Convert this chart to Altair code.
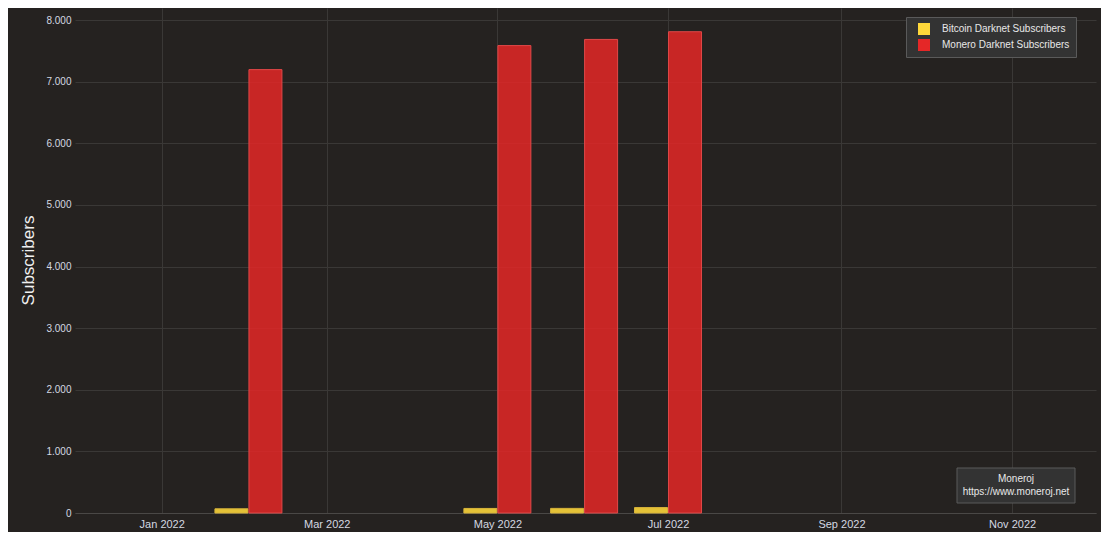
import altair as alt
import pandas as pd

# ---- data ----
dates = ["2022-02-01", "2022-05-01", "2022-06-01", "2022-07-01"]
bitcoin = [68, 74, 75, 88]
monero = [7195, 7585, 7685, 7810]
series = ["Bitcoin Darknet Subscribers", "Monero Darknet Subscribers"]
colors = ["#FFD83A", "#E52727"]
y_ticks = [0, 1000, 2000, 3000, 4000, 5000, 6000, 7000, 8000]
x_tick_months = [1, 3, 5, 7, 9, 11]
note_lines = ["Moneroj", "https://www.moneroj.net"]

df = pd.DataFrame({
    "date": dates + dates,
    "series": [series[0]] * len(dates) + [series[1]] * len(dates),
    "value": bitcoin + monero,
})

BG = "#252220"
GRID = "#3a3836"
FONT = "Liberation Sans"

x_enc = alt.X(
    "date:T",
    scale=alt.Scale(
        type="utc",
        padding=0,
        domain=[alt.DateTime(year=2021, month=12, date=1, utc=True),
                alt.DateTime(year=2022, month=12, date=1, utc=True)],
    ),
    axis=alt.Axis(
        title=None,
        values=[alt.DateTime(year=2022, month=m, date=1, utc=True) for m in x_tick_months],
        labelExpr="utcFormat(datum.value, '%b %Y')",
        grid=True,
        gridColor=GRID,
        ticks=False,
        tickSize=0,
        domain=True,
        domainColor="#4a4846",
        labelColor="#d4d8e0",
        labelFontSize=11,
        labelFont=FONT,
        labelPadding=5,
    ),
)

y_enc = alt.Y(
    "value:Q",
    scale=alt.Scale(domain=[0, 8195], nice=False, padding=0),
    axis=alt.Axis(
        title="Subscribers",
        values=y_ticks,
        labelExpr="replace(format(datum.value, ','), ',', '.')",
        grid=True,
        gridColor=GRID,
        ticks=False,
        tickSize=0,
        domain=False,
        labelColor="#d4d8e0",
        labelFontSize=10,
        labelFont=FONT,
        labelPadding=4,
        titleColor="#f0f0f0",
        titleFont=FONT,
        titleFontSize=17,
        titleFontWeight="normal",
        titleX=-47,
        titleY=252,
        titleAngle=270,
        titleAlign="center",
        titleBaseline="middle",
    ),
)

color_enc = alt.Color(
    "series:N",
    scale=alt.Scale(domain=series, range=colors),
    legend=alt.Legend(
        title=None,
        orient="none",
        legendX=831,
        legendY=9,
        fillColor="#333333",
        strokeColor="#5a5a5a",
        padding=6,
        symbolType="square",
        symbolSize=144,
        symbolOpacity=1,
        symbolStrokeWidth=0,
        symbolOffset=6,
        labelOffset=12,
        rowPadding=4,
        labelFontSize=10,
        labelColor="#e8e8e8",
        labelFont=FONT,
    ),
)

base = alt.Chart(df)

btc = base.transform_filter(alt.datum.series == series[0]).mark_bar(
    width=33, xOffset=-17, fillOpacity=0.88, stroke="#d8b43a", strokeWidth=1
).encode(x=x_enc, y=y_enc, color=color_enc)

xmr = base.transform_filter(alt.datum.series == series[1]).mark_bar(
    width=33, xOffset=17, fillOpacity=0.85, stroke="#e04848", strokeWidth=1
).encode(x=x_enc, y=y_enc, color=color_enc)

note_df = pd.DataFrame({"line1": [note_lines[0]], "line2": [note_lines[1]]})
note_box = alt.Chart(note_df).mark_rect(
    fill="#333333", stroke="#5a5a5a", strokeWidth=1
).encode(x=alt.value(882), x2=alt.value(1000), y=alt.value(460), y2=alt.value(495))

note_t1 = alt.Chart(note_df).mark_text(
    font=FONT, fontSize=10, color="#e8e8e8", align="center", baseline="middle"
).encode(x=alt.value(941), y=alt.value(471), text="line1:N")

note_t2 = alt.Chart(note_df).mark_text(
    font=FONT, fontSize=10, color="#e8e8e8", align="center", baseline="middle"
).encode(x=alt.value(941), y=alt.value(484), text="line2:N")

chart = alt.layer(btc, xmr, note_box, note_t1, note_t2).properties(
    width=1021,
    height=505,
    padding={"left": 67, "top": 0, "right": 5, "bottom": 19},
    autosize=alt.AutoSizeParams(type="none"),
).configure(
    background=BG,
).configure_view(
    stroke=None,
)

chart.save("out.html", embed_options={"renderer": "svg", "actions": False})
